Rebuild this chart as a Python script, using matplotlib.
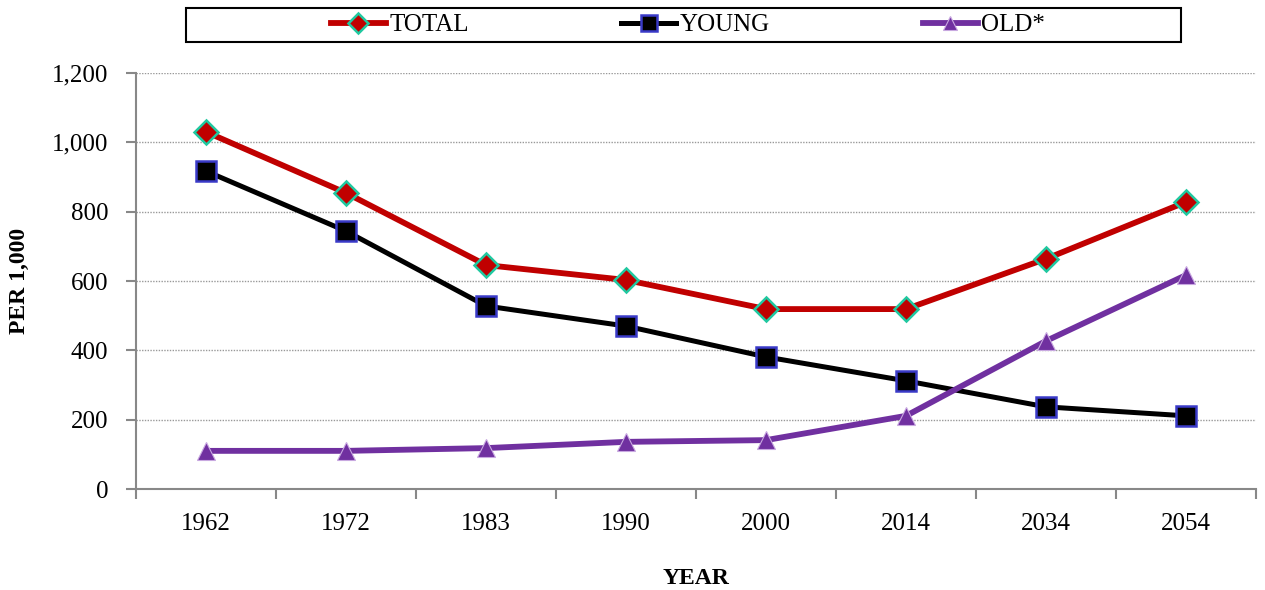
import numpy as np
import matplotlib
matplotlib.use("Agg")
import matplotlib.pyplot as plt
from matplotlib.patches import Rectangle

years = ["1962", "1972", "1983", "1990", "2000", "2014", "2034", "2054"]
total = [1030, 854, 646, 603, 519, 519, 664, 828]
young = [917, 744, 528, 470, 381, 312, 237, 211]
old = [110, 110, 118, 136, 141, 211, 427, 617]

plt.rcParams['font.family'] = ['Liberation Serif', 'DejaVu Serif']

fig = plt.figure(figsize=(12.65, 5.9), dpi=100)
ax = fig.add_axes([136/1265, 1-489/590, 1120/1265, 416/590])

x = np.arange(len(years))
ax.plot(x, total, color='#C00000', linewidth=4.2, marker='D', markersize=12.5,
        markerfacecolor='#C00000', markeredgecolor='#20C8A0', markeredgewidth=1.8,
        label='TOTAL', zorder=3)
ax.plot(x, young, color='black', linewidth=3.6, marker='s', markersize=14,
        markerfacecolor='black', markeredgecolor='#3A3AC8', markeredgewidth=1.8,
        label='YOUNG', zorder=3)
ax.plot(x, old, color='#7030A0', linewidth=4.2, marker='^', markersize=13,
        markerfacecolor='#7030A0', markeredgecolor='#C8A8E0', markeredgewidth=0.8,
        label='OLD*', zorder=3)

ax.set_xlim(-0.5, len(years) - 0.5)
ax.set_ylim(0, 1200)
ax.set_yticks(np.arange(0, 1201, 200))
ax.set_yticklabels(['{:,}'.format(v) for v in range(0, 1201, 200)])

ax.set_xticks(np.arange(-0.5, len(years), 1.0))
ax.set_xticklabels([])
ax.set_xticks(x, minor=True)
ax.set_xticklabels(years, minor=True)
ax.tick_params(axis='x', which='minor', length=0, pad=17, labelsize=18)
ax.tick_params(axis='x', which='major', length=7, width=1.5, color='#888888', direction='out')
ax.tick_params(axis='y', length=7, width=1.5, color='#888888', pad=13, labelsize=18)

for s in ['top', 'right']:
    ax.spines[s].set_visible(False)
for s in ['left', 'bottom']:
    ax.spines[s].set_color('#888888')
    ax.spines[s].set_linewidth(1.5)

ax.yaxis.grid(True, linestyle=(0, (1, 1)), color='#999999', linewidth=1.0)
ax.set_axisbelow(True)

ax.set_xlabel('YEAR', fontsize=17, fontweight='bold', labelpad=24)
ax.set_ylabel('PER 1,000', fontsize=17, fontweight='bold', labelpad=16)

# legend box on top
fig.patches.append(Rectangle((186/1265, 1-42/590), 995/1265, 34/590,
                             transform=fig.transFigure, fill=False,
                             edgecolor='black', linewidth=1.5))
fig.legend(loc='center', bbox_to_anchor=(688/1265, 1-25/590), ncol=3,
           frameon=False, fontsize=18, handlelength=2.2, handletextpad=0.15,
           columnspacing=6.1, markerscale=0.8)

fig.savefig('out.png', dpi=100)
